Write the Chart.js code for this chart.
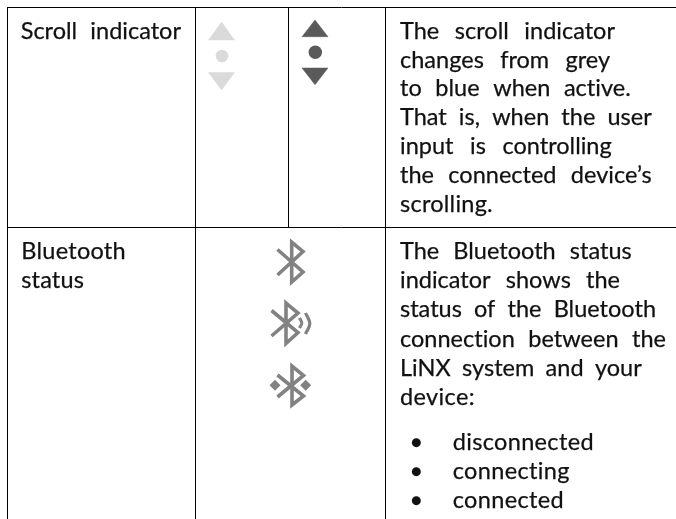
<!DOCTYPE html>
<html><head><meta charset="utf-8">
<style>html,body{margin:0;padding:0;background:#fff}canvas{display:block}</style>
<script src="https://cdn.jsdelivr.net/npm/chart.js@4/dist/chart.umd.js"></script>
</head><body><canvas id="c" width="676" height="519"></canvas>
<script>
// Table rules, in page-grid units
const topRule = [[7,7.5],[676,7.5]];
const midRule = [[7,227.5],[676,227.5]];
const leftRule = [[7.5,7],[7.5,519]];
const col1Rule = [[195.5,7],[195.5,519]];
const col2Rule = [[288.5,7],[288.5,227]];
const col3Rule = [[385.5,7],[385.5,519]];

// Scroll indicator glyphs
const greyUp = [[221.5,22],[234.5,40],[208.5,40],[221.5,22]];
const greyDot = [[222,56]];
const greyDown = [[208.5,72.5],[234.5,72.5],[221.5,90],[208.5,72.5]];
const darkUp = [[315,20],[328,36.7],[302,36.7],[315,20]];
const darkDot = [[315.3,52.3]];
const darkDown = [[302,68],[328,68],[315,84.7],[302,68]];

// Bluetooth glyphs
const btOff = [[277.5,249.5],[303,272],[291.7,282],[291.7,242],[303,251.5],[277.5,275]];
const btBusy = [[271.5,310.5],[298,332.5],[286,343.5],[286,303],[298,313],[271.5,336]];
const btArcSmall = [[299.5,318],[301.8,323],[299.5,328]];
const btArcLarge = [[305.5,313],[309.8,323.5],[305.5,334]];
const btOn = [[277.5,375],[303.5,396],[292,405],[292,366],[303.5,375.5],[277.5,397]];
const btDiamonds = [[275,385.3],[305.7,385.3]];

// Text lines
const cellLabels = ["Scroll indicator","Bluetooth","status"];
const scrollLines = ["The scroll indicator","changes from grey","to blue when active.","That is, when the user","input is controlling","the connected device\u2019s","scrolling."];
const btLines = ["The Bluetooth status","indicator shows the","status of the Bluetooth","connection between the","LiNX system and your","device:"];
const btStates = ["disconnected","connecting","connected"];
const bullet = "\u2022";

const pts = a => a.map(p => ({x:p[0],y:p[1]}));
const rule = a => ({data:pts(a),showLine:true,borderColor:'#000',borderWidth:1,pointRadius:0,fill:false});
const shape = (a,c) => ({data:pts(a),showLine:true,borderColor:c,borderWidth:0.5,pointRadius:0,fill:'shape',backgroundColor:c});
const stroke = (a,c,w,t) => ({data:pts(a),showLine:true,borderColor:c,borderWidth:w,pointRadius:0,fill:false,tension:t||0,borderJoinStyle:'miter'});
const dots = (a,c,r,s) => ({data:pts(a),showLine:false,pointRadius:r,pointBackgroundColor:c,pointBorderWidth:0,pointStyle:s||'circle'});

const GREY='#dadada', DARK='#5a5a5a', BT='#828282';
const datasets = [
  rule(topRule),rule(midRule),rule(leftRule),rule(col1Rule),rule(col2Rule),rule(col3Rule),
  shape(greyUp,GREY),dots(greyDot,GREY,6.3),shape(greyDown,GREY),
  shape(darkUp,DARK),dots(darkDot,DARK,6.7),shape(darkDown,DARK),
  stroke(btOff,BT,3.6),stroke(btBusy,BT,3.6),stroke(btArcSmall,BT,3,0.4),stroke(btArcLarge,BT,3.2,0.4),
  stroke(btOn,BT,3.6),dots(btDiamonds,BT,5.5,'rectRot')
];

// left, baseline, right edge of each text line
const FONT = '23.5px Lato, Carlito, sans-serif';
const textLayout = [
  [cellLabels[0],20.7,39,181],[cellLabels[1],21.3,259.3,126],[cellLabels[2],21.3,288.3,84],
  [scrollLines[0],400,39.3,615],[scrollLines[1],400,67.7,610],[scrollLines[2],400,96,630.7],
  [scrollLines[3],400,125,651.7],[scrollLines[4],400,154,611.7],[scrollLines[5],400,183.3,651.7],[scrollLines[6],400,212,493],
  [btLines[0],400,259,631.7],[btLines[1],400,288.3,620],[btLines[2],400,317,656],
  [btLines[3],400,346.5,666],[btLines[4],400,376,641.7],[btLines[5],400,405,475],
  [btStates[0],452.7,450,594],[btStates[1],452.7,479,570],[btStates[2],452.7,507.7,564],
  [bullet,409.5,450,null],[bullet,409.5,479,null],[bullet,409.5,507.7,null]
];

const textPlugin = {id:'pageText',afterDatasetsDraw(chart){
  const g=chart.ctx; g.save(); g.font=FONT; g.fillStyle='#111'; g.strokeStyle='#111'; g.lineWidth=0.25;
  g.textBaseline='alphabetic'; g.textAlign='left';
  for(const [s,x,y,r] of textLayout){
    g.wordSpacing='0px'; g.letterSpacing='0.01px';
    if(r){
      const w=g.measureText(s).width, gaps=s.split(' ').length-1, extra=(r-x)-w;
      if(gaps && extra>0){g.wordSpacing=(extra/gaps)+'px';}
      else {g.letterSpacing=(extra/s.length)+'px';}
    }
    g.fillText(s,x,y); g.strokeText(s,x,y);
  }
  g.restore();
}};

new Chart(document.getElementById('c'),{
  type:'scatter',
  data:{datasets},
  plugins:[textPlugin],
  options:{
    responsive:false,animation:false,
    layout:{padding:0,autoPadding:false},
    plugins:{legend:{display:false},tooltip:{enabled:false},title:{display:false}},
    scales:{
      x:{type:'linear',min:0,max:676,display:false},
      y:{type:'linear',min:0,max:519,reverse:true,display:false}
    }
  }
});
</script></body></html>
